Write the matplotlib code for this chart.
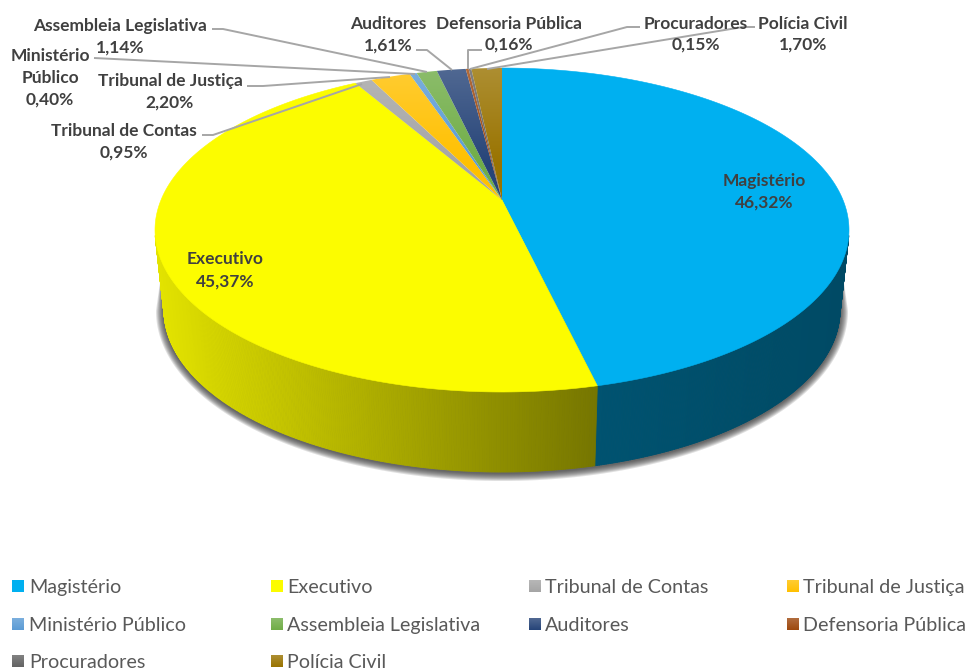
import numpy as np
import matplotlib
matplotlib.use("Agg")
import matplotlib.pyplot as plt
from matplotlib.patches import Polygon, Rectangle
from matplotlib.collections import PolyCollection
from matplotlib.colors import to_rgb

plt.rcParams["font.family"] = ["Lato", "DejaVu Sans"]

categories = ["Magistério", "Executivo", "Tribunal de Contas", "Tribunal de Justiça",
              "Ministério Público", "Assembleia Legislativa", "Auditores",
              "Defensoria Pública", "Procuradores", "Polícia Civil"]
values = [46.32, 45.37, 0.95, 2.20, 0.40, 1.14, 1.61, 0.16, 0.15, 1.70]
colors = ["#00B0F0", "#FCFC00", "#A5A5A5", "#FFC000", "#5B9BD5",
          "#70AD47", "#264478", "#9E480E", "#636363", "#997300"]
flat = [True, True, False, False, False, False, False, False, False, False]

# label text lines and baseline positions (pixels)
label_names = ["Magistério", "Executivo", "Tribunal de Contas", "Tribunal de Justiça",
               "Ministério\nPúblico", "Assembleia Legislativa", "Auditores",
               "Defensoria Pública", "Procuradores", "Polícia Civil"]
label_x = [764, 225, 124, 170, 50, 120, 388, 509, 696, 803]
label_y = [[186, 208], [264, 287], [136, 158], [86, 108], [61, 83, 105],
           [31, 53], [29, 51], [29, 50], [29, 50], [29, 50]]

leaders = [
    [(202, 135), (213, 135), (362, 84)],
    [(247, 86), (263, 86), (390, 77)],
    [(94, 58), (415, 74)],
    [(212, 29), (223, 29), (427, 72)],
    [(416, 50), (427, 50), (452, 70)],
    [(482, 50), (468, 50), (468, 69)],
    [(640, 27), (627, 27), (470, 69)],
    [(755, 27), (743, 27), (487, 69)],
]

legend_sq_x = [12, 271, 529, 787]
legend_txt_x = [29, 287, 545, 803]
legend_y = [587, 625, 662]

# pie geometry in pixels: top and bottom ellipses, p = how far the apex sits off centre
cx = 502
top_a, top_b, top_cy = 347, 162, 230
bot_a, bot_b, bot_cy = 338, 162, 310
p = 0.185


def rim_norm(frac):
    ang = 2 * np.pi * np.asarray(frac)
    d = 1 + p * np.cos(ang)
    return np.sin(ang) * np.sqrt(1 - p ** 2) / d, (np.cos(ang) + p) / d


def side_shade(x):
    return np.interp(x, [155, 597, 849], [0.90, 0.47, 0.42])


fig = plt.figure(figsize=(9.67, 6.7), dpi=100)
ax = fig.add_axes([0, 0, 1, 1])

edges = np.concatenate([[0], np.cumsum(values)]) / np.sum(values)

# soft shadow under the side wall, tapers out going up the sides
t = np.linspace(0, 1, 400)
sx, sy = np.cos(np.pi * t), np.sin(np.pi * t)
for d in [8, 7, 6, 5, 4, 3, 2, 1]:
    xs = cx + (bot_a + d) * sx
    ys = bot_cy + 1 + (bot_b + d) * sy
    xs = np.concatenate([[cx + bot_a + 2], xs, [cx - bot_a - 2]])
    ys = np.concatenate([[268], ys, [268]])
    ax.add_patch(Polygon(np.column_stack([xs, ys]), closed=True, fc="#303030",
                         ec="none", alpha=0.15, zorder=1))

# side wall, only the part facing the viewer
for i in range(len(values)):
    f = np.linspace(edges[i], edges[i + 1], 500)
    nx, ny = rim_norm(f)
    keep = ny < -0.03
    if keep.sum() < 2:
        continue
    xt, yt = cx + top_a * nx[keep], top_cy - top_b * ny[keep]
    xb, yb = cx + bot_a * nx[keep], bot_cy - bot_b * ny[keep]
    quads, cols = [], []
    for j in range(len(xt) - 1):
        quads.append([(xt[j], yt[j]), (xt[j + 1], yt[j + 1]), (xb[j + 1], yb[j + 1]), (xb[j], yb[j])])
        cols.append(np.array(to_rgb(colors[i])) * side_shade(xt[j]))
    ax.add_collection(PolyCollection(quads, facecolors=cols, edgecolors=cols, linewidths=0.6, zorder=2))

# top surface
apex = (cx, top_cy - top_b * p)
grad = np.linspace(0, 1, 200)[:, None]
for i in range(len(values)):
    f = np.linspace(edges[i], edges[i + 1], 300)
    nx, ny = rim_norm(f)
    pts = np.column_stack([cx + top_a * nx, top_cy - top_b * ny])
    pts = np.vstack([[apex], pts])
    if flat[i]:
        ax.add_patch(Polygon(pts, closed=True, fc=colors[i], ec=colors[i], lw=0.4, zorder=3))
    else:
        base = np.array(to_rgb(colors[i]))
        w = np.clip(1 - grad / 0.75, 0, 1) * 0.2
        img = (base * (1 - w) + w)[:, None, :].reshape(200, 1, 3)
        clip = Polygon(pts, closed=True, fc="none", ec="none", transform=ax.transData)
        ax.add_patch(clip)
        im = ax.imshow(img, extent=(pts[:, 0].min(), pts[:, 0].max(), apex[1], 66),
                       aspect="auto", zorder=3.2, interpolation="bilinear")
        im.set_clip_path(clip)

# leader lines
for line in leaders:
    xy = np.array(line)
    ax.plot(xy[:, 0], xy[:, 1], color="#A6A6A6", lw=1.4, zorder=4, solid_capstyle="butt")

# data labels
for name, val, x, ys in zip(label_names, values, label_x, label_y):
    lines = name.split("\n") + [f"{val:.2f}%".replace(".", ",")]
    for txt, y in zip(lines, ys):
        ax.text(x, y, txt, ha="center", va="baseline", fontsize=12.5, fontweight="bold",
                color="#404040", zorder=5)

# legend in fixed grid, columns are evenly spaced in the original
for i, name in enumerate(categories):
    col, row = i % 4, i // 4
    y = legend_y[row]
    sq = Rectangle((legend_sq_x[col], y - 7), 12, 12, fc="none", ec="none")
    ax.add_patch(sq)
    if flat[i]:
        sq.set_facecolor(colors[i])
    else:
        base = np.array(to_rgb(colors[i]))
        w = (1 - grad) * 0.2
        img = (base * (1 - w) + w)[:, None, :].reshape(200, 1, 3)
        im = ax.imshow(img, extent=(legend_sq_x[col], legend_sq_x[col] + 12, y + 5, y - 7),
                       aspect="auto", zorder=3)
    ax.text(legend_txt_x[col], y + 6, name, ha="left", va="baseline", fontsize=14.2, color="#595959")

ax.set_xlim(0, 967)
ax.set_ylim(670, 0)
ax.axis("off")
fig.savefig("out.png", dpi=100)
